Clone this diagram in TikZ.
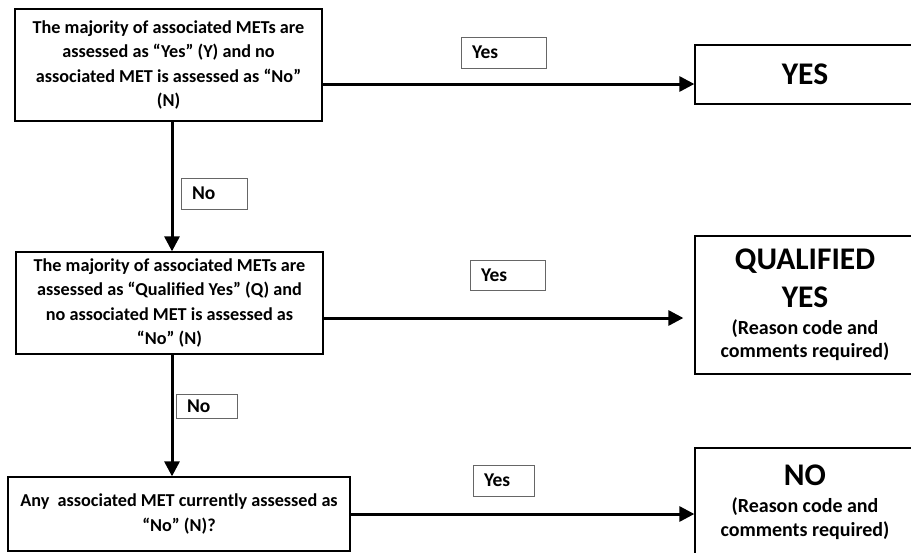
\documentclass[tikz,border=0pt]{standalone}
\usepackage{fontspec}
\setmainfont{Carlito}
\usetikzlibrary{arrows.meta}
\tikzset{
  test/.style={draw, line width=1.3pt, align=center, inner sep=0pt,
    font=\bfseries\fontsize{18.2}{24.5}\selectfont},
  result/.style={draw, line width=1.3pt, align=center, inner sep=0pt,
    font=\bfseries\fontsize{20}{23.5}\selectfont},
  answer/.style={draw=black!60, line width=0.6pt, inner xsep=11pt, inner ysep=0pt,
    align=left, font=\bfseries\fontsize{19.5}{21}\selectfont},
  flow/.style={line width=3pt, -{Triangle[length=15pt,width=15pt]}}
}
\newcommand{\bigtxt}{\bfseries\fontsize{31.5}{25}\selectfont}
\begin{document}
\begin{tikzpicture}[x=1pt,y=-1pt]
\clip (0,0) rectangle (911,552);
% decision boxes
\node[test, minimum width=307pt, minimum height=112pt] (q1) at (168.5,65)
  {The majority of associated METs are\\assessed as “Yes” (Y) and no\\associated MET is assessed as “No”\\(N)};
\node[test, minimum width=307pt, minimum height=102pt] (q2) at (169.5,303)
  {The majority of associated METs are\\assessed as “Qualified Yes” (Q) and\\no associated MET is assessed as\\“No” (N)};
\node[test, minimum width=342pt, minimum height=74pt] (q3) at (179,514)
  {Any\ \ associated MET currently assessed as\\“No” (N)?};
% outcomes
\node[result, minimum width=220pt, minimum height=59pt, font=\bigtxt] (yes) at (805,74.5) {YES};
\node[result, minimum width=220pt, minimum height=138pt] (qyes) at (805,305)
  {\bigtxt QUALIFIED\\[12pt]\bigtxt YES\\[3.5pt](Reason code and\\comments required)};
\node[result, minimum width=220pt, minimum height=108pt] (no) at (805,502)
  {\bigtxt NO\\[4pt](Reason code and\\comments required)};
% answer labels
\node[answer, minimum height=31pt, text width=63pt] (a1) at (503.5,52.5) {Yes};
\node[answer, minimum height=31pt, text width=44pt] (a2) at (214,193.5) {No};
\node[answer, minimum height=30pt, text width=53pt] (a3) at (507.5,275) {Yes};
\node[answer, minimum height=24pt, text width=39pt] (a4) at (206.5,406.5) {No};
\node[answer, minimum height=31pt, text width=39pt] (a5) at (503.5,480.5) {Yes};
% connectors
\draw[flow] ([yshift=-19pt]q1.east) coordinate (s1) -- (s1 -| yes.west);
\draw[flow] ([yshift=-15pt]q2.east) coordinate (s2) -- ([xshift=-11pt]s2 -| qyes.west);
\draw[flow] (q3.east) -- (q3.east -| no.west);
\draw[flow] ([xshift=3.5pt]q1.south) coordinate (d1) -- (d1 |- q2.north);
\draw[flow] ([xshift=2.5pt]q2.south) coordinate (d2) -- (d2 |- q3.north);
\end{tikzpicture}
\end{document}
